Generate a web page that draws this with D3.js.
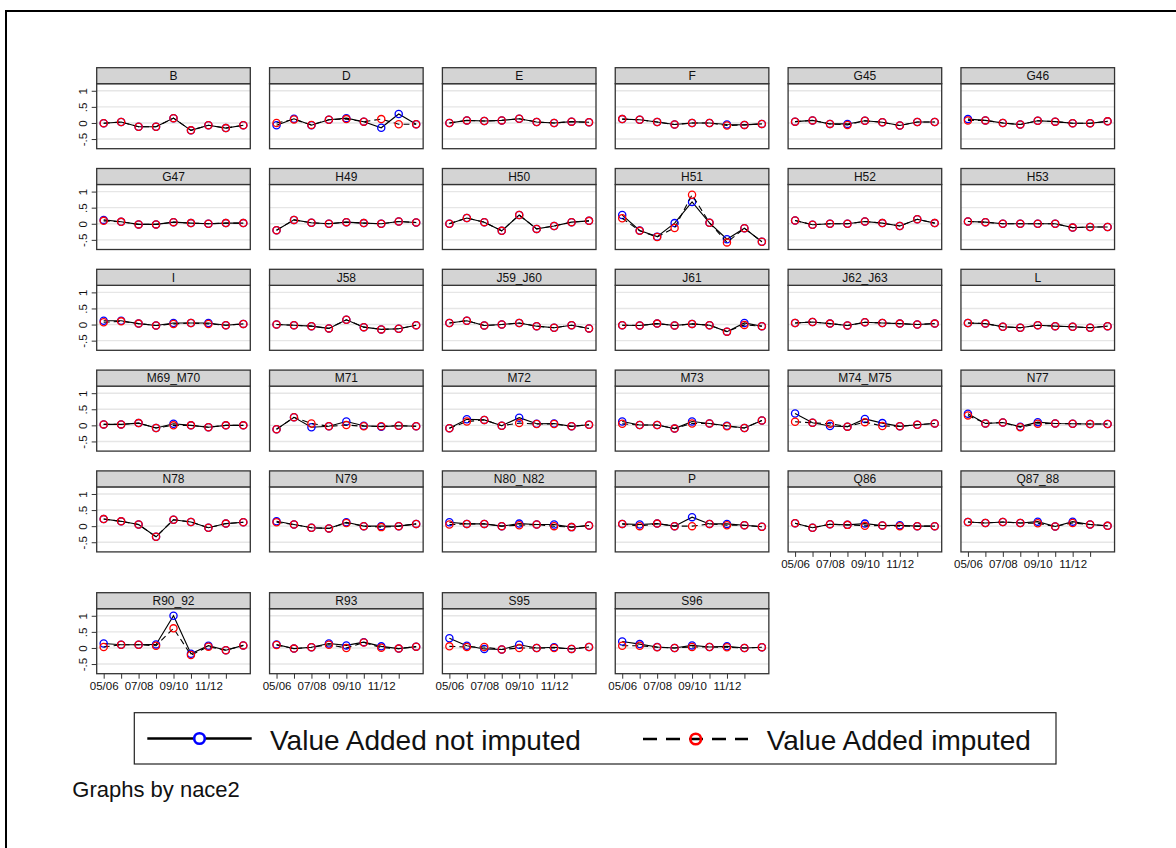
<!DOCTYPE html>
<html>
<head>
<meta charset="utf-8">
<script src="https://cdn.jsdelivr.net/npm/d3@7"></script>
<style>
  body { margin: 0; background: #fff; }
  svg { display: block; font-family: "Liberation Sans", Arial, sans-serif; }
</style>
</head>
<body>
<svg id="chart" width="1176" height="848"></svg>
<script>
// x categories (financial years) and which ones get a label
var years = ["05/06", "06/07", "07/08", "08/09", "09/10", "10/11", "11/12", "12/13", "13/14"];
var xTicks = ["05/06", "06/07", "07/08", "08/09", "09/10", "10/11", "11/12", "12/13"];
var xLabels = ["05/06", "07/08", "09/10", "11/12"];
var yTicks = [-0.5, 0, 0.5, 1];
var yTickLabels = ["-.5", "0", ".5", "1"];

// one entry per nace2 group
var panels = ["B", "D", "E", "F", "G45", "G46",
  "G47", "H49", "H50", "H51", "H52", "H53",
  "I", "J58", "J59_J60", "J61", "J62_J63", "L",
  "M69_M70", "M71", "M72", "M73", "M74_M75", "N77",
  "N78", "N79", "N80_N82", "P", "Q86", "Q87_88",
  "R90_92", "R93", "S95", "S96"];

// Value Added not imputed (blue)
var notImputed = [
  [-0.01, 0.03, -0.12, -0.12, 0.15, -0.23, -0.07, -0.16, -0.07],
  [-0.07, 0.13, -0.07, 0.10, 0.15, 0.04, -0.15, 0.28, -0.04],
  [0.00, 0.08, 0.06, 0.08, 0.13, 0.03, 0.00, 0.04, 0.02],
  [0.12, 0.10, 0.03, -0.05, 0.00, 0.00, -0.05, -0.06, -0.03],
  [0.04, 0.08, -0.03, -0.03, 0.07, 0.02, -0.08, 0.03, 0.03],
  [0.12, 0.08, 0.00, -0.05, 0.07, 0.04, -0.01, -0.01, 0.05],
  [0.12, 0.06, -0.02, -0.02, 0.05, 0.02, 0.00, 0.02, 0.02],
  [-0.20, 0.12, 0.03, 0.00, 0.05, 0.02, 0.00, 0.07, 0.04],
  [0.00, 0.18, 0.05, -0.22, 0.27, -0.16, -0.07, 0.05, 0.09],
  [0.27, -0.21, -0.40, 0.02, 0.68, 0.03, -0.48, -0.14, -0.56],
  [0.10, -0.03, 0.00, 0.00, 0.07, 0.02, -0.07, 0.14, 0.02],
  [0.07, 0.05, 0.00, 0.00, 0.00, 0.00, -0.12, -0.10, -0.10],
  [0.12, 0.12, 0.03, -0.03, 0.05, 0.05, 0.05, -0.02, 0.02],
  [0.00, -0.02, -0.05, -0.12, 0.15, -0.08, -0.15, -0.13, -0.02],
  [0.05, 0.12, -0.03, 0.00, 0.05, -0.05, -0.10, -0.02, -0.12],
  [-0.02, -0.03, 0.03, -0.03, 0.02, -0.02, -0.22, 0.05, -0.05],
  [0.05, 0.08, 0.03, -0.03, 0.07, 0.05, 0.03, 0.00, 0.03],
  [0.05, 0.03, -0.07, -0.10, -0.02, -0.05, -0.07, -0.10, -0.05],
  [0.03, 0.03, 0.07, -0.08, 0.05, 0.00, -0.06, 0.00, 0.00],
  [-0.12, 0.25, -0.06, -0.03, 0.12, -0.01, -0.04, -0.01, -0.03],
  [-0.09, 0.19, 0.17, -0.01, 0.24, 0.05, 0.06, -0.03, 0.02],
  [0.12, 0.01, 0.01, -0.10, 0.12, 0.06, -0.01, -0.08, 0.15],
  [0.37, 0.08, -0.02, -0.04, 0.20, 0.07, -0.03, 0.02, 0.06],
  [0.36, 0.06, 0.09, -0.04, 0.10, 0.06, 0.05, 0.04, 0.04],
  [0.22, 0.15, 0.05, -0.33, 0.20, 0.13, -0.05, 0.08, 0.12],
  [0.15, 0.05, -0.05, -0.07, 0.12, 0.00, 0.00, 0.00, 0.07],
  [0.12, 0.07, 0.07, 0.00, 0.08, 0.05, 0.05, -0.03, 0.02],
  [0.07, 0.05, 0.08, 0.00, 0.28, 0.07, 0.07, 0.03, -0.02],
  [0.09, -0.05, 0.06, 0.04, 0.08, 0.02, 0.03, 0.00, 0.00],
  [0.13, 0.10, 0.13, 0.10, 0.14, -0.01, 0.14, 0.05, 0.01],
  [0.14, 0.10, 0.10, 0.11, 1.00, -0.18, 0.07, -0.07, 0.08],
  [0.11, -0.02, 0.02, 0.14, 0.08, 0.18, 0.05, -0.02, 0.04],
  [0.30, 0.07, -0.03, -0.05, 0.10, 0.00, 0.02, -0.03, 0.03],
  [0.20, 0.12, 0.03, 0.00, 0.08, 0.03, 0.05, 0.00, 0.02]
];

// Value Added imputed (red)
var imputed = [
  [-0.01, 0.03, -0.12, -0.12, 0.15, -0.23, -0.07, -0.16, -0.07],
  [0.00, 0.11, -0.06, 0.10, 0.12, 0.04, 0.12, -0.04, -0.04],
  [0.00, 0.08, 0.06, 0.08, 0.13, 0.03, 0.00, 0.04, 0.02],
  [0.12, 0.10, 0.03, -0.05, 0.00, 0.00, -0.08, -0.06, -0.03],
  [0.04, 0.08, -0.03, -0.06, 0.07, 0.02, -0.08, 0.03, 0.03],
  [0.08, 0.08, 0.00, -0.05, 0.07, 0.04, -0.01, -0.01, 0.05],
  [0.09, 0.06, -0.02, -0.02, 0.05, 0.02, 0.00, 0.02, 0.02],
  [-0.20, 0.12, 0.03, 0.00, 0.05, 0.02, 0.00, 0.07, 0.04],
  [0.00, 0.18, 0.05, -0.22, 0.27, -0.16, -0.07, 0.05, 0.09],
  [0.17, -0.22, -0.41, -0.13, 0.90, 0.03, -0.58, -0.14, -0.56],
  [0.10, -0.03, 0.00, 0.00, 0.07, 0.02, -0.07, 0.14, 0.02],
  [0.07, 0.05, 0.00, 0.00, 0.00, 0.00, -0.12, -0.10, -0.10],
  [0.07, 0.10, 0.03, -0.03, 0.02, 0.05, 0.02, -0.02, 0.02],
  [0.00, -0.02, -0.05, -0.12, 0.15, -0.08, -0.15, -0.13, -0.02],
  [0.05, 0.12, -0.03, 0.00, 0.05, -0.05, -0.10, -0.02, -0.12],
  [-0.02, -0.03, 0.03, -0.03, 0.02, -0.02, -0.22, -0.01, -0.05],
  [0.05, 0.08, 0.03, -0.03, 0.07, 0.05, 0.03, 0.00, 0.03],
  [0.05, 0.03, -0.07, -0.10, -0.02, -0.05, -0.07, -0.10, -0.05],
  [0.03, 0.03, 0.07, -0.08, 0.00, 0.00, -0.06, 0.00, 0.00],
  [-0.12, 0.25, 0.06, -0.03, 0.01, -0.03, -0.03, -0.01, -0.03],
  [-0.09, 0.12, 0.17, -0.01, 0.07, 0.04, 0.04, -0.03, 0.02],
  [0.05, 0.01, 0.01, -0.10, 0.06, 0.06, -0.03, -0.08, 0.15],
  [0.11, 0.08, 0.05, -0.04, 0.10, -0.02, -0.03, 0.02, 0.06],
  [0.31, 0.06, 0.09, -0.06, 0.05, 0.06, 0.05, 0.04, 0.04],
  [0.22, 0.15, 0.05, -0.33, 0.20, 0.13, -0.05, 0.08, 0.12],
  [0.12, 0.05, -0.05, -0.07, 0.10, 0.00, -0.03, 0.00, 0.07],
  [0.05, 0.07, 0.07, 0.00, 0.03, 0.05, 0.00, -0.03, 0.02],
  [0.07, 0.00, 0.08, 0.00, 0.00, 0.07, 0.03, 0.03, -0.02],
  [0.09, -0.05, 0.06, 0.04, 0.01, 0.02, 0.00, 0.00, 0.00],
  [0.13, 0.10, 0.13, 0.10, 0.09, -0.01, 0.10, 0.05, 0.01],
  [0.03, 0.10, 0.10, 0.07, 0.61, -0.22, 0.04, -0.07, 0.08],
  [0.09, -0.02, 0.02, 0.10, 0.00, 0.17, 0.01, -0.02, 0.04],
  [0.05, 0.03, 0.03, -0.05, 0.00, 0.00, 0.00, -0.03, 0.03],
  [0.07, 0.07, 0.02, 0.00, 0.03, 0.03, 0.02, 0.00, 0.02]
];

var svg = d3.select("#chart");

// outer graph frame (only top and left edges fall inside the window)
svg.append("path")
  .attr("d", "M6,848 V11 H1176")
  .attr("fill", "none")
  .attr("stroke", "#000")
  .attr("stroke-width", 2);

// grid of panels
var nCols = 6;
var colLeft = 96.7, colStep = 172.85, panelW = 153.6;
var rowTops = [67.7, 168.5, 269.3, 370.1, 470.9, 592.7];
var stripH = 16, plotH = 65;
var blue = "#0000ff", red = "#ff0000";

// bottom panel of each column gets the x labels
function hasXLabels(i) {
  return i + nCols >= panels.length;
}

panels.forEach(function(name, i) {
  var col = i % nCols, row = Math.floor(i / nCols);
  var left = colLeft + col * colStep;
  var top = rowTops[row];
  var plotTop = top + stripH, plotBottom = plotTop + plotH;

  var x = d3.scalePoint().domain(years).range([left, left + panelW]).padding(0.4);
  var y = d3.scaleLinear().domain([-0.8, 1.22]).range([plotBottom, plotTop]);

  var g = svg.append("g").attr("class", "panel");

  // plot region
  g.append("rect")
    .attr("x", left).attr("y", plotTop)
    .attr("width", panelW).attr("height", plotH)
    .attr("fill", "#fff");

  // gridlines
  g.selectAll(".grid")
    .data(yTicks)
    .enter().append("line")
    .attr("x1", left).attr("x2", left + panelW)
    .attr("y1", d => y(d)).attr("y2", d => y(d))
    .attr("stroke", "#e6e6e6")
    .attr("stroke-width", 1.4);

  // y axis on the first column only, labels turned sideways
  if (col === 0) {
    var yAxis = d3.axisLeft(y).tickValues(yTicks).tickSize(5)
      .tickFormat((d, k) => yTickLabels[k]);
    var ya = g.append("g").attr("transform", "translate(" + left + ",0)").call(yAxis);
    ya.select(".domain").remove();
    ya.selectAll(".tick line").attr("stroke", "#333");
    ya.selectAll(".tick text")
      .attr("transform", "rotate(-90)")
      .attr("x", 0).attr("y", -14).attr("dy", "0.35em")
      .attr("text-anchor", "middle")
      .style("font-size", "11.5px").style("font-family", "Liberation Sans, Arial, sans-serif")
      .attr("fill", "#111");
  }

  // x axis on the bottom panel of each column
  if (hasXLabels(i)) {
    var xAxis = d3.axisBottom(x).tickValues(xTicks).tickSize(5)
      .tickFormat(d => xLabels.indexOf(d) >= 0 ? d : "");
    var xa = g.append("g").attr("transform", "translate(0," + plotBottom + ")").call(xAxis);
    xa.select(".domain").remove();
    xa.selectAll(".tick line").attr("stroke", "#333");
    xa.selectAll(".tick text")
      .attr("y", 8)
      .style("font-size", "11.5px").style("font-family", "Liberation Sans, Arial, sans-serif")
      .attr("fill", "#111");
  }

  var notImp = years.map((yr, k) => ({ yr: yr, v: notImputed[i][k] }));
  var imp = years.map((yr, k) => ({ yr: yr, v: imputed[i][k] }));
  var line = d3.line().x(d => x(d.yr)).y(d => y(d.v));

  // not imputed: solid line + blue circles
  g.append("path").datum(notImp)
    .attr("d", line).attr("fill", "none")
    .attr("stroke", "#000").attr("stroke-width", 1.1);
  g.selectAll(".mNot").data(notImp).enter().append("circle")
    .attr("cx", d => x(d.yr)).attr("cy", d => y(d.v)).attr("r", 3.6)
    .attr("fill", "none").attr("stroke", blue).attr("stroke-width", 1.3);

  // imputed: dashed line + red circles
  g.append("path").datum(imp)
    .attr("d", line).attr("fill", "none")
    .attr("stroke", "#000").attr("stroke-width", 1.1)
    .attr("stroke-dasharray", "6,4");
  g.selectAll(".mImp").data(imp).enter().append("circle")
    .attr("cx", d => x(d.yr)).attr("cy", d => y(d.v)).attr("r", 3.6)
    .attr("fill", "none").attr("stroke", red).attr("stroke-width", 1.3);

  // frame of the plot region
  g.append("rect")
    .attr("x", left).attr("y", plotTop)
    .attr("width", panelW).attr("height", plotH)
    .attr("fill", "none").attr("stroke", "#333").attr("stroke-width", 1.3);

  // title strip
  g.append("rect")
    .attr("x", left).attr("y", top)
    .attr("width", panelW).attr("height", stripH)
    .attr("fill", "#d4d4d4").attr("stroke", "#333").attr("stroke-width", 1.3);
  g.append("text")
    .attr("x", left + panelW / 2).attr("y", top + 12.3)
    .attr("text-anchor", "middle")
    .style("font-size", "12px")
    .attr("fill", "#111")
    .text(name);
});

// legend
var leg = svg.append("g");
leg.append("rect")
  .attr("x", 134.3).attr("y", 712.7).attr("width", 921.7).attr("height", 51.3)
  .attr("fill", "#fff").attr("stroke", "#222").attr("stroke-width", 1.2);

leg.append("line")
  .attr("x1", 147.3).attr("x2", 251.7).attr("y1", 738.5).attr("y2", 738.5)
  .attr("stroke", "#000").attr("stroke-width", 2.6);
leg.append("circle")
  .attr("cx", 199.5).attr("cy", 738.5).attr("r", 5.3)
  .attr("fill", "#fff").attr("stroke", blue).attr("stroke-width", 2.6);
leg.append("text")
  .attr("x", 270).attr("y", 749.5)
  .style("font-size", "28px").attr("fill", "#111")
  .text("Value Added not imputed");

leg.append("line")
  .attr("x1", 643).attr("x2", 748).attr("y1", 739).attr("y2", 739)
  .attr("stroke", "#000").attr("stroke-width", 2.6)
  .attr("stroke-dasharray", "14,9");
leg.append("circle")
  .attr("cx", 695.7).attr("cy", 739).attr("r", 5.3)
  .attr("fill", "none").attr("stroke", red).attr("stroke-width", 2.6);
leg.append("text")
  .attr("x", 766.7).attr("y", 749.5)
  .style("font-size", "28px").attr("fill", "#111")
  .text("Value Added imputed");

// note
svg.append("text")
  .attr("x", 72.3).attr("y", 796.7)
  .style("font-size", "22px").attr("fill", "#111")
  .text("Graphs by nace2");
</script>
</body>
</html>
